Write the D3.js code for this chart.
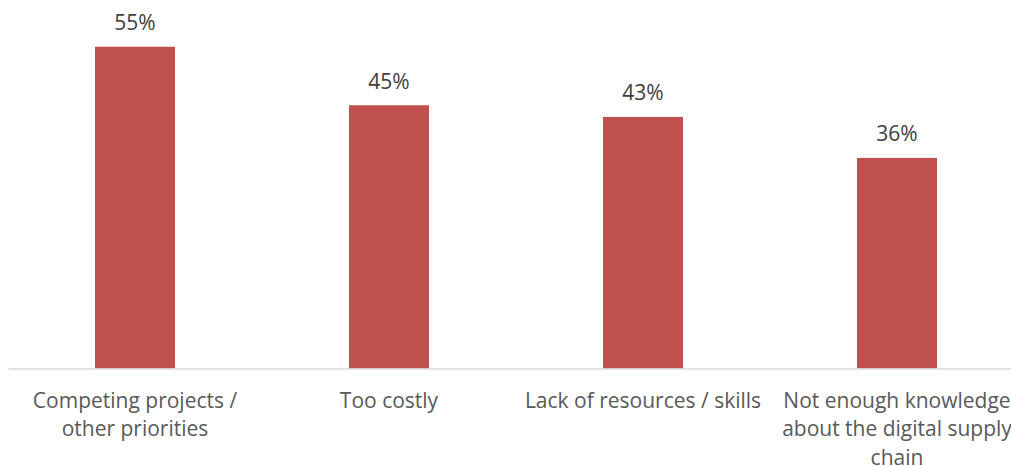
<!DOCTYPE html>
<html>
<head>
<meta charset="utf-8">
<script src="https://cdn.jsdelivr.net/npm/d3@7"></script>
<style>
  html, body { margin: 0; padding: 0; background: #fff; }
  svg { display: block; font-family: "Open Sans", "Noto Sans", sans-serif; }
</style>
</head>
<body>
<div id="chart"></div>
<script>
// categories (pre-wrapped the way the original labels break) and values
const categories = [
    "Competing projects /\nother priorities",
    "Too costly",
    "Lack of resources / skills",
    "Not enough knowledge\nabout the digital supply\nchain"
];
const values = [55, 45, 43, 36];

const W = 1011, H = 466;
const baseY = 368.5, topY = 17.5;

const svg = d3.select("#chart").append("svg")
    .attr("width", W).attr("height", H)
    .attr("viewBox", `0 0 ${W} ${H}`);

// plot area runs past the right edge, like the cropped original
const x = d3.scaleBand()
    .domain(categories)
    .range([8, 1024])
    .paddingInner(0.685)
    .paddingOuter(0.3425);

const y = d3.scaleLinear().domain([0, 60]).range([baseY, topY]);

const data = categories.map((c, i) => ({ cat: c, v: values[i] }));

svg.selectAll("rect.bar").data(data).join("rect")
    .attr("class", "bar")
    .attr("x", d => x(d.cat))
    .attr("y", d => y(d.v))
    .attr("width", x.bandwidth())
    .attr("height", d => y(0) - y(d.v))
    .attr("fill", "#c0504d");

// value labels
svg.selectAll("text.val").data(data).join("text")
    .attr("class", "val")
    .attr("x", d => x(d.cat) + x.bandwidth() / 2)
    .attr("y", d => y(d.v) - 16.5)
    .attr("text-anchor", "middle")
    .attr("fill", "#404040")
    .style("font-size", "21px")
    .text(d => d.v + "%");

// x axis: just the baseline and wrapped category labels
const xAxis = d3.axisBottom(x).tickSize(0).tickPadding(0).tickFormat("");
const gx = svg.append("g").attr("transform", `translate(0,${baseY})`).call(xAxis);
gx.select(".domain").attr("stroke", "#d9d9d9").attr("stroke-width", 1.3);

const lbl = svg.selectAll("text.cat").data(categories).join("text")
    .attr("class", "cat")
    .attr("text-anchor", "middle")
    .attr("fill", "#595959")
    .style("font-size", "21px");
lbl.each(function (c) {
    const t = d3.select(this);
    const cx = x(c) + x.bandwidth() / 2;
    c.split("\n").forEach((line, i) => {
        t.append("tspan").attr("x", cx).attr("y", baseY + 39 + i * 28.5).text(line);
    });
});
</script>
</body>
</html>
